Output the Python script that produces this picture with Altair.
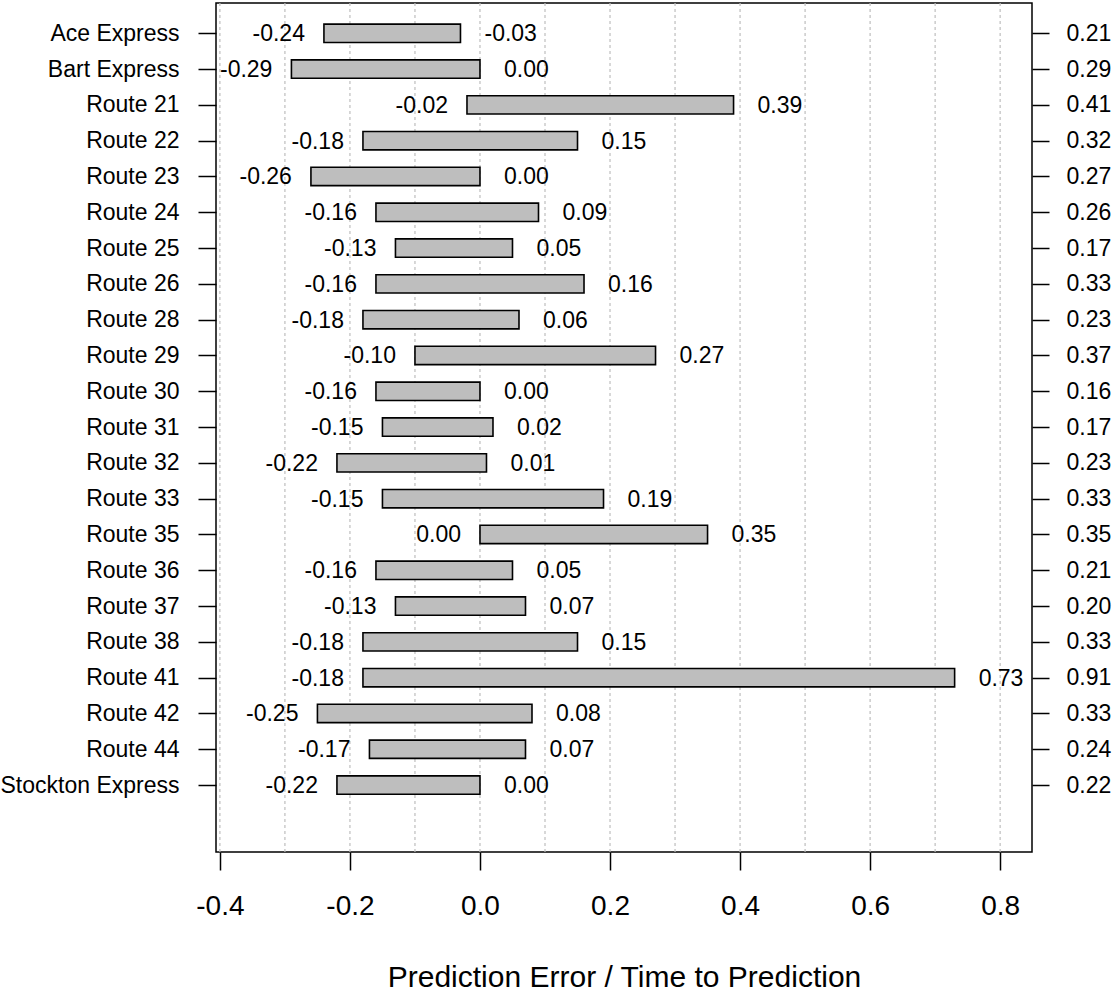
import json
import altair as alt
import pandas as pd

routes = ["Ace Express", "Bart Express", "Route 21", "Route 22", "Route 23", "Route 24",
          "Route 25", "Route 26", "Route 28", "Route 29", "Route 30", "Route 31",
          "Route 32", "Route 33", "Route 35", "Route 36", "Route 37", "Route 38",
          "Route 41", "Route 42", "Route 44", "Stockton Express"]
lows = [-0.24, -0.29, -0.02, -0.18, -0.26, -0.16, -0.13, -0.16, -0.18, -0.10, -0.16, -0.15,
        -0.22, -0.15, 0.00, -0.16, -0.13, -0.18, -0.18, -0.25, -0.17, -0.22]
highs = [-0.03, 0.00, 0.39, 0.15, 0.00, 0.09, 0.05, 0.16, 0.06, 0.27, 0.00, 0.02,
         0.01, 0.19, 0.35, 0.05, 0.07, 0.15, 0.73, 0.08, 0.07, 0.00]
totals = ["0.21", "0.29", "0.41", "0.32", "0.27", "0.26", "0.17", "0.33", "0.23", "0.37",
          "0.16", "0.17", "0.23", "0.33", "0.35", "0.21", "0.20", "0.33", "0.91", "0.33",
          "0.24", "0.22"]
grid_values = [-0.4, -0.3, -0.2, -0.1, 0.0, 0.1, 0.2, 0.3, 0.4, 0.5, 0.6, 0.7, 0.8]
x_ticks = [-0.4, -0.2, 0.0, 0.2, 0.4, 0.6, 0.8]

df = pd.DataFrame({
    "i": list(range(len(routes))),
    "route": routes,
    "lo": lows,
    "hi": highs,
})
df["lo_txt"] = [f"{v:.2f}" for v in lows]
df["hi_txt"] = [f"{v:.2f}" for v in highs]
grid_df = pd.DataFrame({"g": grid_values})

FONT = "Liberation Sans"
xscale = alt.Scale(domain=[-0.406, 0.849], nice=False, zero=False)
yscale = alt.Scale(domain=[-0.846, 22.87], nice=False, zero=False, reverse=True)

names_expr = json.dumps(routes) + "[datum.value]"
totals_expr = json.dumps(totals) + "[datum.value]"
xlab_expr = "(datum.value < -0.001 ? '-' : '') + format(abs(datum.value), '.1f')"

grid = alt.Chart(grid_df).mark_rule(color="#BEBEBE", strokeDash=[3, 3], strokeWidth=1.2).encode(
    x=alt.X("g:Q", scale=xscale,
            axis=alt.Axis(values=x_ticks, labelExpr=xlab_expr, grid=False, domain=False,
                          tickSize=18, tickWidth=1.5, tickColor="black",
                          labelFontSize=28, labelFont=FONT, labelColor="black",
                          labelPadding=22, title="Prediction Error / Time to Prediction",
                          titleFontSize=30, titleFont=FONT, titleFontWeight="normal",
                          titleColor="black", titlePadding=42)),
)

base = alt.Chart(df)

left_axis = alt.Axis(values=list(range(len(routes))), labelExpr=names_expr, grid=False,
                     domain=False, tickSize=18, tickWidth=1.5, tickColor="black",
                     labelFontSize=23, labelFont=FONT, labelColor="black",
                     labelPadding=19, title=None, orient="left")
right_axis = alt.Axis(values=list(range(len(routes))), labelExpr=totals_expr, grid=False,
                      domain=False, tickSize=17, tickWidth=1.5, tickColor="black",
                      labelFontSize=23, labelFont=FONT, labelColor="black",
                      labelPadding=17, title=None, orient="right")

bars = base.transform_calculate(
    y0="datum.i - 0.256", y1="datum.i + 0.256"
).mark_rect(fill="#BEBEBE", stroke="black", strokeWidth=1.6).encode(
    x=alt.X("lo:Q", scale=xscale),
    x2="hi:Q",
    y=alt.Y("y0:Q", scale=yscale, axis=left_axis),
    y2="y1:Q",
)

right_ticks = base.mark_point(opacity=0).encode(
    x=alt.X("lo:Q", scale=xscale),
    y=alt.Y("i:Q", scale=yscale, axis=right_axis),
)

lo_text = base.mark_text(align="right", baseline="middle", dx=-19, dy=1, fontSize=23,
                         font=FONT, color="black").encode(
    x=alt.X("lo:Q", scale=xscale),
    y=alt.Y("i:Q", scale=yscale, axis=None),
    text="lo_txt:N",
)
hi_text = base.mark_text(align="left", baseline="middle", dx=24, dy=1, fontSize=23,
                         font=FONT, color="black").encode(
    x=alt.X("hi:Q", scale=xscale),
    y=alt.Y("i:Q", scale=yscale, axis=None),
    text="hi_txt:N",
)

chart = alt.layer(grid, bars, lo_text, hi_text, right_ticks).resolve_axis(
    y="independent"
).properties(
    width=816, height=849,
    padding={"left": 216, "top": 3, "right": 83, "bottom": 140},
    autosize="none",
).configure(background="white").configure_view(stroke="black", strokeWidth=1.5)

chart.save("out.html", embed_options={"renderer": "svg", "actions": False})
